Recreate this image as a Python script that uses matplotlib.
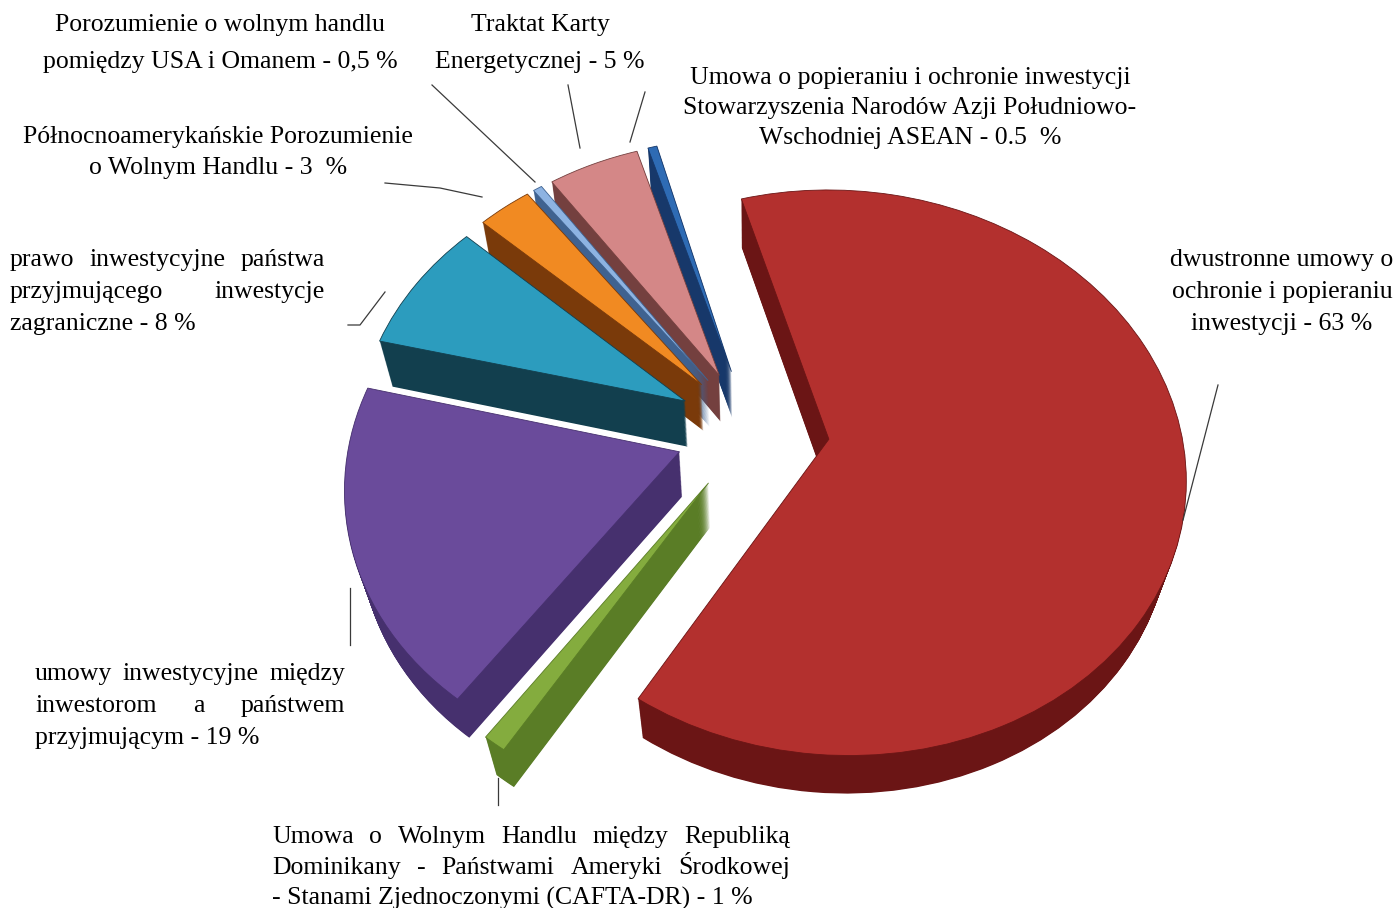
import numpy as np
import matplotlib
matplotlib.use("Agg")
import matplotlib.pyplot as plt
from matplotlib.patches import Wedge
from matplotlib.transforms import Transform
from matplotlib.path import Path

# shares of the investment agreements (%), clockwise from the top
shares = [63, 1, 19, 8, 3, 0.5, 5, 0.5]
top_colors = ['#B3302E', '#84AC3E', '#6A4B9B', '#2C9CBE', '#F18A22', '#8DB3E2', '#D48787', '#2E6BB4']
side_colors = ['#6B1515', '#5A7D26', '#46306E', '#123F4E', '#7A3A0A', '#3F6290', '#74403F', '#17386A']

label_texts = [
    ["dwustronne umowy o", "ochronie i popieraniu", "inwestycji - 63 %"],
    ["Umowa o Wolnym Handlu między Republiką", "Dominikany - Państwami Ameryki Środkowej",
     "- Stanami Zjednoczonymi (CAFTA-DR) - 1 %"],
    ["umowy inwestycyjne między", "inwestorom a państwem", "przyjmującym - 19 %"],
    ["prawo inwestycyjne państwa", "przyjmującego inwestycje", "zagraniczne - 8 %"],
    ["Północnoamerykańskie Porozumienie", "o Wolnym Handlu - 3  %"],
    ["Porozumienie o wolnym handlu", "pomiędzy USA i Omanem - 0,5 %"],
    ["Traktat Karty", "Energetycznej - 5 %"],
    ["Umowa o popieraniu i ochronie inwestycji", "Stowarzyszenia Narodów Azji Południowo-",
     "Wschodniej ASEAN - 0.5  %"],
]

# 3d look of the pie
CX, CY = 752, 430      # screen position of pie centre
R = 340                # radius (plane px)
TILT = np.radians(36)
DIST = 1700.0          # camera distance
YAW = 0.12             # left side a bit farther away
THICK = 80             # pie height
EXPLODE = 77
START = 105


class Persp(Transform):
    input_dims = 2
    output_dims = 2

    def __init__(self, z):
        super().__init__()
        self.z = z

    def transform_non_affine(self, uv):
        uv = np.asarray(uv, float)
        u, v = uv[:, 0], uv[:, 1]
        yc = v * np.cos(TILT) + self.z * np.sin(TILT)
        d = DIST + v * np.sin(TILT) - self.z * np.cos(TILT) - YAW * u
        s = DIST / d
        return np.column_stack([CX + u * s, CY - yc * s])

    def transform_path_non_affine(self, path):
        poly = path.to_polygons(closed_only=True)[0]
        return Path(self.transform_non_affine(poly), closed=True)


fig = plt.figure(figsize=(13.97, 9.08), dpi=100)
ax = fig.add_axes([0, 0, 1, 1])
ax.set_autoscale_on(False)
ax.set_xlim(0, 1397)
ax.set_ylim(908, 0)
ax.axis('off')

# wedge angles
fracs = np.array(shares) / sum(shares) * 360
ends = START - np.concatenate([[0], np.cumsum(fracs)[:-1]])
begins = ends - fracs
mids = (begins + ends) / 2

# far slices first
order = np.argsort(-np.sin(np.radians(mids)))
layers = np.linspace(-THICK, 0, 55)
for i in order:
    c = (EXPLODE * np.cos(np.radians(mids[i])), EXPLODE * np.sin(np.radians(mids[i])))
    for z in layers[:-1]:
        ax.add_patch(Wedge(c, R, begins[i], ends[i], facecolor=side_colors[i],
                           edgecolor='none', transform=Persp(z) + ax.transData))
    ax.add_patch(Wedge(c, R, begins[i], ends[i], facecolor=top_colors[i],
                       edgecolor=side_colors[i], linewidth=0.6,
                       transform=Persp(0) + ax.transData))

# leader lines
leaders = [
    [(1218, 385), (1183, 520)],
    [(498, 778), (498, 805)],
    [(350, 588), (350, 645)],
    [(348, 325), (360, 325), (385, 292)],
    [(385, 183), (440, 188), (482, 197)],
    [(432, 85), (535, 182)],
    [(568, 85), (580, 148)],
    [(645, 92), (630, 142)],
]
for pts in leaders:
    xs, ys = zip(*pts)
    ax.plot(xs, ys, color='#3a3a3a', linewidth=0.9)

font = dict(family='Liberation Serif', fontsize=18.5, color='black')
renderer = fig.canvas.get_renderer()


def place(lines, mode, x0, x1, baselines):
    for k, (line, y) in enumerate(zip(lines, baselines)):
        if mode == 'center':
            ax.text((x0 + x1) / 2, y, line, ha='center', va='baseline', **font)
            continue
        words = line.split(' ')
        if k == len(lines) - 1 or len(words) == 1:
            ax.text(x0, y, line, ha='left', va='baseline', **font)
            continue
        ts = [ax.text(0, y, w, ha='left', va='baseline', **font) for w in words]
        ws = [t.get_window_extent(renderer).width for t in ts]
        gap = (x1 - x0 - sum(ws)) / (len(words) - 1)
        x = x0
        for t, w in zip(ts, ws):
            t.set_x(x)
            x += w + gap


place(label_texts[0], 'center', 1172, 1392, [266, 298, 330])
place(label_texts[1], 'justify', 272, 790, [843, 874, 905])
place(label_texts[2], 'justify', 35, 345, [680, 712, 744])
place(label_texts[3], 'justify', 10, 325, [266, 298, 330])
place(label_texts[4], 'center', 18, 418, [143, 174])
place(label_texts[5], 'center', 30, 410, [31, 68])
place(label_texts[6], 'center', 440, 640, [31, 68])
place(label_texts[7], 'center', 680, 1140, [84, 114, 144])

fig.savefig('out.png', dpi=100)
